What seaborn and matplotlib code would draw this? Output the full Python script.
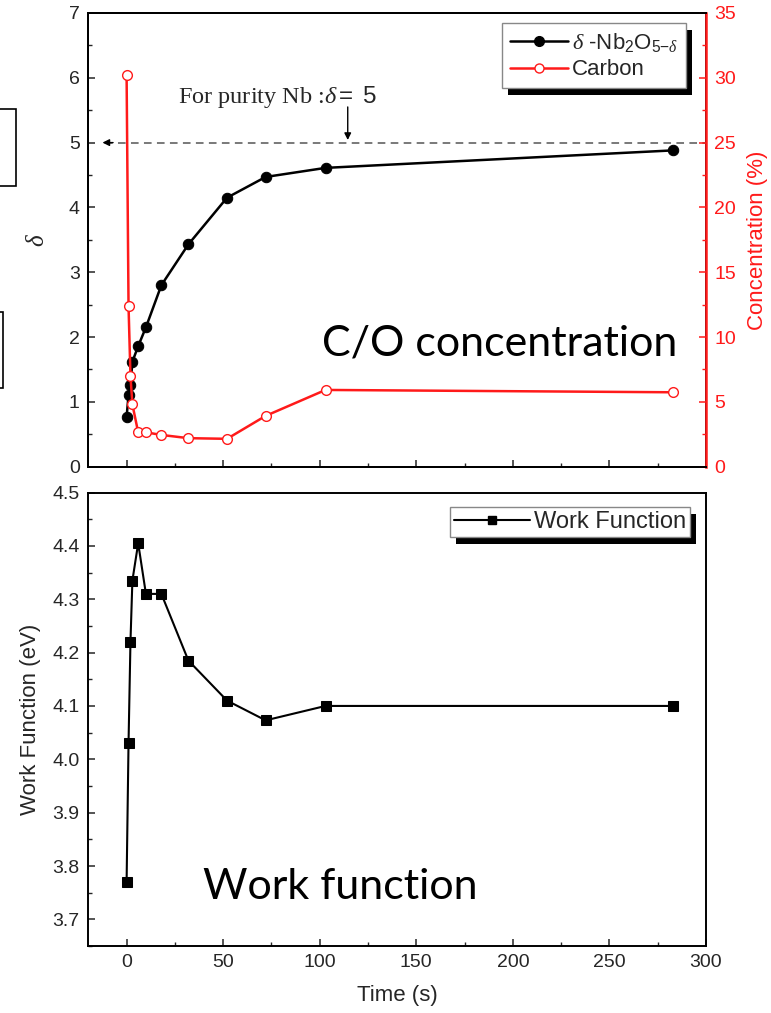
import numpy as np
import pandas as pd
import seaborn as sns
import matplotlib
matplotlib.use("Agg")
import matplotlib.pyplot as plt
from matplotlib.ticker import MultipleLocator
from matplotlib.lines import Line2D
from matplotlib.patches import Rectangle

# Sputtering time (s) shared by all three measurements
time_s = [0, 1, 2, 3, 6, 10, 18, 32, 52, 72, 103, 283]
# Oxygen deficiency delta in Nb2O(5-delta)
delta = [0.77, 1.10, 1.26, 1.62, 1.86, 2.15, 2.80, 3.43, 4.15, 4.47, 4.61, 4.88]
# Carbon concentration (%)
carbon = [30.2, 12.4, 7.0, 4.8, 2.65, 2.65, 2.45, 2.2, 2.15, 3.92, 5.92, 5.74]
# Work function (eV)
work_function = [3.77, 4.03, 4.22, 4.335, 4.405, 4.31, 4.31, 4.185, 4.11, 4.073, 4.10, 4.10]

top_df = pd.DataFrame({"time": time_s, "delta": delta, "carbon": carbon})
wf_df = pd.DataFrame({"time": time_s, "wf": work_function})

sns.set_theme(style="ticks")
plt.rcParams["font.family"] = ["Liberation Sans", "DejaVu Sans"]
plt.rcParams["mathtext.fontset"] = "custom"
plt.rcParams["mathtext.rm"] = "Liberation Sans"
plt.rcParams["mathtext.sf"] = "Liberation Sans"
plt.rcParams["mathtext.it"] = "Liberation Serif:italic"
plt.rcParams["xtick.direction"] = "in"
plt.rcParams["ytick.direction"] = "in"

RED = "#ff1a1a"
TICK_FS = 14
LABEL_FS = 16
LEG_FS = 16

fig = plt.figure(figsize=(7.71, 10.13), dpi=100)
fig.patch.set_facecolor("white")
ax1 = fig.add_axes([0.1141, 0.5393, 0.8016, 0.4479])
ax2 = fig.add_axes([0.1141, 0.0661, 0.8016, 0.4477])


def style_ticks(ax, spine_color="black"):
    ax.tick_params(which="major", length=5, width=1.1, labelsize=TICK_FS, pad=6)
    ax.tick_params(which="minor", length=3, width=1.0)
    for s in ax.spines.values():
        s.set_linewidth(1.4)
        s.set_color(spine_color)


# ---------------- upper panel: delta and carbon ----------------
sns.lineplot(data=top_df, x="time", y="delta", ax=ax1, color="black",
             marker="o", markersize=7.5, markeredgecolor="black",
             markerfacecolor="black", linewidth=1.8, estimator=None,
             sort=False, legend=False)
ax1.set_xlim(-20, 300)
ax1.set_ylim(0, 7)
ax1.xaxis.set_major_locator(MultipleLocator(50))
ax1.xaxis.set_minor_locator(MultipleLocator(25))
ax1.yaxis.set_major_locator(MultipleLocator(1))
ax1.yaxis.set_minor_locator(MultipleLocator(0.5))
ax1.tick_params(axis="x", which="both", labelbottom=False)
ax1.tick_params(axis="y", which="both", right=False)
ax1.tick_params(axis="x", which="both", top=False)
style_ticks(ax1)
ax1.set_xlabel("")
ax1.set_ylabel(r"$\delta$", fontsize=LABEL_FS + 2, labelpad=14)

axr = ax1.twinx()
sns.lineplot(data=top_df, x="time", y="carbon", ax=axr, color=RED,
             marker="o", markersize=7, markeredgecolor=RED,
             markerfacecolor="white", markeredgewidth=1.0, linewidth=1.8,
             estimator=None, sort=False, legend=False)
axr.set_ylim(0, 35)
axr.yaxis.set_major_locator(MultipleLocator(5))
axr.yaxis.set_minor_locator(MultipleLocator(2.5))
style_ticks(axr)
axr.tick_params(axis="y", which="both", colors=RED, labelcolor=RED, left=False)
axr.spines["right"].set_color(RED)
axr.spines["right"].set_linewidth(1.8)
axr.set_ylabel("Concentration (%)", color=RED, fontsize=LABEL_FS, labelpad=8)

# purity reference line at delta = 5 with arrowheads
ax1.plot([-11, 300], [5, 5], linestyle=(0, (5, 3.5)), color="#555555", lw=1.1)
ax1.annotate("", xy=(-12.5, 5), xytext=(-7, 5),
             arrowprops=dict(arrowstyle="-|>", color="black", lw=1,
                             mutation_scale=10, shrinkA=0, shrinkB=0))
ax1.annotate("", xy=(114.5, 5.04), xytext=(114.5, 5.55),
             arrowprops=dict(arrowstyle="-|>", color="black", lw=1,
                             mutation_scale=10, shrinkA=0, shrinkB=0))
ax1.text(26.5, 5.70, r"For purity Nb :$\delta\mathsf{=\ 5}$",
         family="Liberation Serif", fontsize=17.5, va="center", ha="left")

# legend of the upper panel
top_handles = [
    Line2D([], [], color="black", marker="o", markersize=7,
           markerfacecolor="black", lw=1.8),
    Line2D([], [], color=RED, marker="o", markersize=6.5,
           markerfacecolor="white", markeredgecolor=RED, lw=1.8),
]
top_labels = [r"$\delta$ -Nb$_2$O$_{5\mathsf{-}\delta}$", "Carbon"]
leg1 = axr.legend(top_handles, top_labels, loc="upper right",
                  bbox_to_anchor=(0.968, 0.978), fontsize=LEG_FS,
                  fancybox=False, framealpha=1, edgecolor="#888888",
                  handlelength=2.6, handletextpad=0.2, borderpad=0.35,
                  labelspacing=0.25, borderaxespad=0)
leg1.get_frame().set_linewidth(1.0)
leg1.set_zorder(10)

fig.text(322 / 771, 1 - 343 / 1013, "C/O concentration", family="Lato",
         fontsize=31, va="center", ha="left", color="black")

# ---------------- lower panel: work function ----------------
sns.lineplot(data=wf_df, x="time", y="wf", ax=ax2, color="black",
             marker="s", markersize=7.5, markeredgecolor="black",
             markerfacecolor="black", linewidth=1.5, estimator=None,
             sort=False, legend=False)
ax2.set_xlim(-20, 300)
ax2.set_ylim(3.65, 4.5)
ax2.xaxis.set_major_locator(MultipleLocator(50))
ax2.xaxis.set_minor_locator(MultipleLocator(25))
ax2.yaxis.set_major_locator(MultipleLocator(0.1))
ax2.yaxis.set_minor_locator(MultipleLocator(0.05))
ax2.tick_params(axis="both", which="both", top=False, right=False)
style_ticks(ax2)
ax2.set_xlabel("Time (s)", fontsize=LABEL_FS, labelpad=10)
ax2.set_ylabel("Work Function (eV)", fontsize=LABEL_FS, labelpad=8)
ax2.set_yticks(np.round(np.arange(3.7, 4.51, 0.1), 1))
ax2.set_yticklabels([f"{v:.1f}" for v in np.arange(3.7, 4.51, 0.1)])

wf_handles = [Line2D([], [], color="black", marker="s", markersize=6,
                     markerfacecolor="black", lw=1.5)]
leg2 = ax2.legend(wf_handles, ["Work Function"], loc="upper right",
                  bbox_to_anchor=(0.974, 0.967), fontsize=17,
                  fancybox=False, framealpha=1, edgecolor="#888888",
                  handlelength=3.2, handletextpad=0.2, borderpad=0.15,
                  borderaxespad=0)
leg2.get_frame().set_linewidth(1.0)
leg2.set_zorder(10)

fig.text(203 / 771, 1 - 887 / 1013, "Work function", family="Lato",
         fontsize=31, va="center", ha="left", color="black")

# solid drop shadows behind both legends
fig.canvas.draw()
for ax, leg in ((axr, leg1), (ax2, leg2)):
    bb = leg.get_window_extent().transformed(fig.transFigure.inverted())
    dx, dy = 6 / 771, 7 / 1013
    shadow = Rectangle((bb.x0 + dx, bb.y0 - dy), bb.width, bb.height,
                       transform=fig.transFigure, facecolor="black",
                       edgecolor="none", zorder=9)
    ax.add_artist(shadow)

# clipped frames at the left edge
fig.add_artist(Rectangle((-0.01, 1 - 186 / 1013), 0.01 + 15.5 / 771, 77 / 1013,
                         transform=fig.transFigure, fill=False,
                         edgecolor="black", lw=1.2))
fig.add_artist(Rectangle((-0.01, 1 - 388 / 1013), 0.01 + 3.5 / 771, 76 / 1013,
                         transform=fig.transFigure, fill=False,
                         edgecolor="black", lw=1.2))

fig.savefig("out.png", dpi=100)
